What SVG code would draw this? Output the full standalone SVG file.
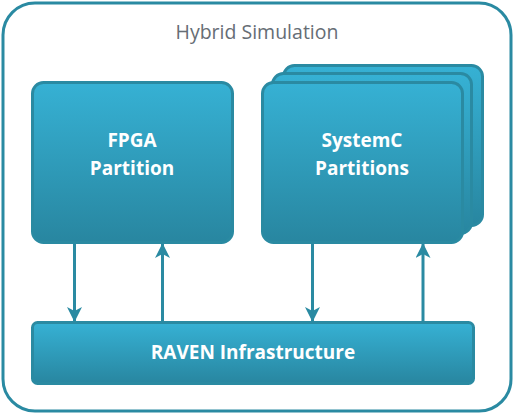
<svg xmlns="http://www.w3.org/2000/svg" width="514" height="414" viewBox="0 0 514 414">
<defs>
<linearGradient id="g" x1="0" y1="0" x2="0" y2="1">
<stop offset="0" stop-color="#36b1d4"/>
<stop offset="1" stop-color="#2886a0"/>
</linearGradient>
<marker id="ah" viewBox="0 0 15 15" refX="14" refY="7.5" markerWidth="15" markerHeight="15" markerUnits="userSpaceOnUse" orient="auto">
<path d="M0,0 L15,7.5 L0,15 L4,7.5 Z" fill="#2a8aa2"/>
</marker>
<style>
.box{fill:url(#g);stroke:#2a8aa2;stroke-width:3}
.lbl{font-family:"Open Sans","Noto Sans",sans-serif;font-weight:bold;font-size:19px;fill:#ffffff;text-anchor:middle}
.title{font-family:"Open Sans","Noto Sans",sans-serif;font-weight:500;font-size:19.5px;fill:#666d75;text-anchor:middle}
.conn{stroke:#2a8aa2;stroke-width:3;fill:none;marker-end:url(#ah)}
</style>
</defs>
<g id="frame">
<rect x="3" y="3" width="508" height="408" rx="32" fill="#ffffff" stroke="#2a8aa2" stroke-width="3"/>
<text class="title" x="257" y="39">Hybrid Simulation</text>
</g>
<g id="fpga">
<rect class="box" x="32.5" y="82.5" width="200" height="160" rx="11"/>
<text class="lbl" x="132" y="147">FPGA</text>
<text class="lbl" x="132" y="175">Partition</text>
</g>
<g id="systemc">
<rect class="box" x="283.5" y="65.5" width="199" height="160" rx="11"/>
<rect class="box" x="272.5" y="73.5" width="199" height="160" rx="11"/>
<rect class="box" x="262.5" y="82.5" width="200" height="160" rx="11"/>
<text class="lbl" x="362" y="147">SystemC</text>
<text class="lbl" x="362" y="175">Partitions</text>
</g>
<g id="raven">
<rect class="box" x="32.5" y="322.5" width="441" height="61" rx="5"/>
<text class="lbl" x="253" y="359">RAVEN Infrastructure</text>
</g>
<g id="connectors">
<line class="conn" x1="74.5" y1="244" x2="74.5" y2="321"/>
<line class="conn" x1="162.5" y1="321" x2="162.5" y2="244"/>
<line class="conn" x1="312.5" y1="244" x2="312.5" y2="321"/>
<line class="conn" x1="423" y1="321" x2="423" y2="244"/>
</g>
</svg>
